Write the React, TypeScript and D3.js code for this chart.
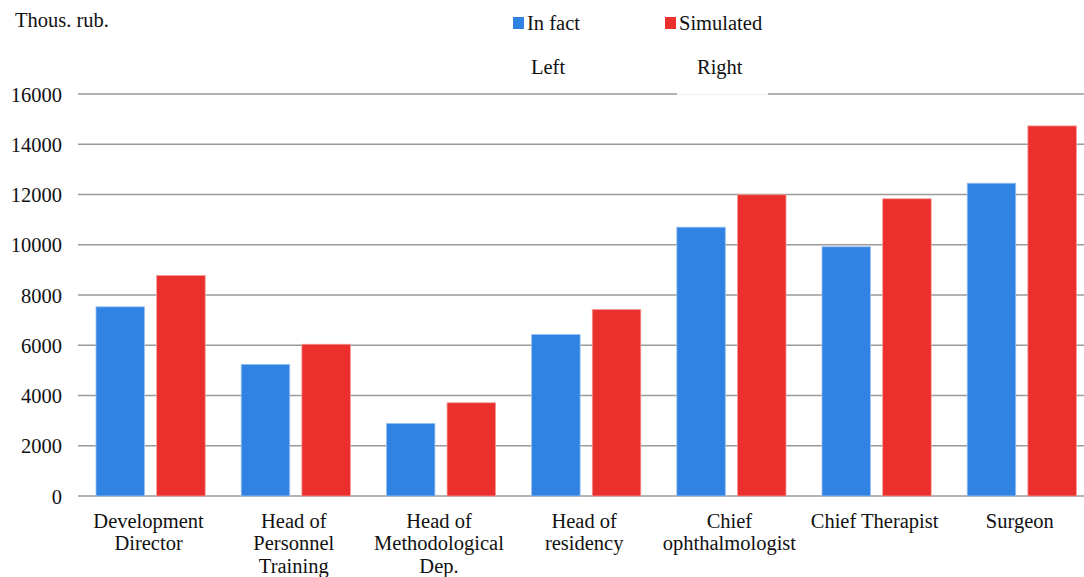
import React from "react";
import * as d3 from "d3";

const categories: string[][] = [
  ["Development", "Director"],
  ["Head of", "Personnel", "Training"],
  ["Head of", "Methodological", "Dep."],
  ["Head of", "residency"],
  ["Chief", "ophthalmologist"],
  ["Chief Therapist"],
  ["Surgeon"],
];
const inFact = [7530, 5240, 2890, 6430, 10700, 9920, 12450];
const simulated = [8780, 6040, 3710, 7420, 11990, 11830, 14730];
const yTicks = [0, 2000, 4000, 6000, 8000, 10000, 12000, 14000, 16000];
const seriesNames = ["In fact", "Simulated"];
const colors = ["#3183e3", "#eb2f2d"];

const FONT = '"Liberation Serif", "Times New Roman", Times, "DejaVu Serif", serif';

export default function App() {
  const W = 1084;
  const H = 577;
  const x0 = 78;
  const step = 145.2;
  const x = d3
    .scaleBand<number>()
    .domain(d3.range(categories.length))
    .range([x0, x0 + step * categories.length])
    .paddingInner(0)
    .paddingOuter(0);
  const y = d3.scaleLinear().domain([0, 16000]).range([496, 94]);
  const inner = d3
    .scaleBand<number>()
    .domain([0, 1])
    .range([18, step - 18])
    .paddingInner(0.2);
  const ts = { fontFamily: FONT } as React.CSSProperties;
  const fs = 20.5;

  return (
    <svg
      width={W}
      height={H}
      style={{ position: "absolute", left: 0, top: 0, background: "#fff", fontFamily: FONT }}
    >
      <rect x={0} y={0} width={W} height={H} fill="#fff" />
      {yTicks.map((t) => (
        <g key={t}>
          <line x1={x0} x2={W} y1={y(t)} y2={y(t)} stroke="#9a9a9a" strokeWidth={1.4} />
          <text x={62} y={y(t) + 7.5} textAnchor="end" fontSize={fs} fill="#111" style={ts}>
            {t}
          </text>
        </g>
      ))}
      {categories.map((c, i) => (
        <g key={i}>
          {[inFact[i], simulated[i]].map((v, s) => (
            <rect
              key={s}
              x={(x(i) as number) + (inner(s) as number)}
              y={y(v)}
              width={inner.bandwidth()}
              height={y(0) - y(v)}
              fill={colors[s]}
              stroke={s === 0 ? "#9cc3f0" : "#f49a98"}
              strokeWidth={0.8}
            />
          ))}
          <text
            x={(x(i) as number) + step / 2 - 2}
            y={527.5}
            textAnchor="middle"
            fontSize={fs}
            fill="#111"
            style={ts}
          >
            {c.map((line, k) => (
              <tspan key={k} x={(x(i) as number) + step / 2 - 2} dy={k === 0 ? 0 : 22.7}>
                {line}
              </tspan>
            ))}
          </text>
        </g>
      ))}
      <text x={15} y={26.5} fontSize={fs} fill="#111" style={ts}>
        Thous. rub.
      </text>
      <rect x={513} y={17} width={11} height={12} fill={colors[0]} />
      <text x={527} y={30} fontSize={fs} fill="#111" style={ts}>
        {seriesNames[0]}
      </text>
      <rect x={665} y={17} width={11} height={12} fill={colors[1]} />
      <text x={679} y={30} fontSize={fs} fill="#111" style={ts}>
        {seriesNames[1]}
      </text>
      <text x={531} y={74} fontSize={fs} fill="#111" style={ts}>
        Left
      </text>
      <rect x={677} y={88} width={91} height={6.8} fill="#fff" />
      <text x={697} y={74} fontSize={fs} fill="#111" style={ts}>
        Right
      </text>
    </svg>
  );
}
